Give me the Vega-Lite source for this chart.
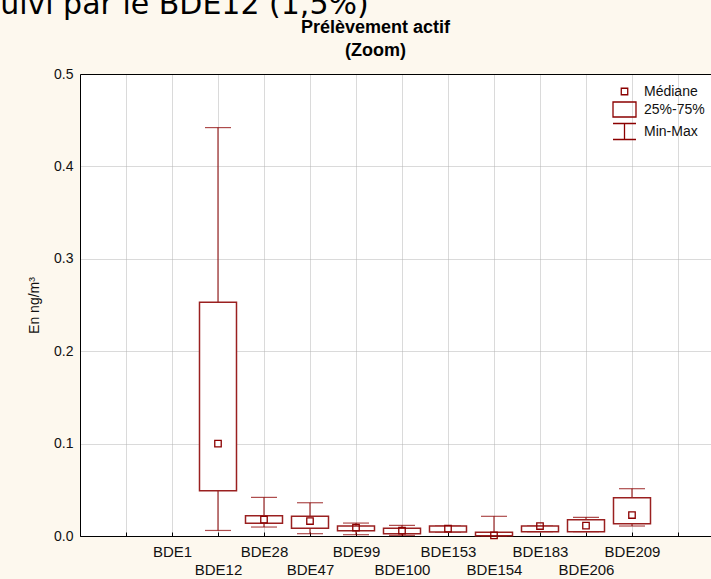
{
  "$schema": "https://vega.github.io/schema/vega-lite/v6.json",
  "width": 631,
  "height": 462,
  "autosize": {"type": "none"},
  "padding": {"left": 80, "top": 74, "right": 0, "bottom": 43},
  "background": "#fdf8ee",
  "config": {"view": {"stroke": null, "fill": "white"}, "font": "Liberation Sans"},
  "data": {"values": [
    {"bde": "BDE12", "min": 0.006, "q1": 0.049, "median": 0.1, "q3": 0.253, "max": 0.442},
    {"bde": "BDE28", "min": 0.0097, "q1": 0.0137, "median": 0.0177, "q3": 0.022, "max": 0.0418},
    {"bde": "BDE47", "min": 0.0025, "q1": 0.0083, "median": 0.0162, "q3": 0.0213, "max": 0.036},
    {"bde": "BDE99", "min": 0.0014, "q1": 0.0058, "median": 0.009, "q3": 0.0108, "max": 0.014},
    {"bde": "BDE100", "min": 0.0007, "q1": 0.0025, "median": 0.0058, "q3": 0.0083, "max": 0.0115},
    {"bde": "BDE153", "min": 0.0043, "q1": 0.0043, "median": 0.0079, "q3": 0.0108, "max": 0.0108},
    {"bde": "BDE154", "min": 0.0, "q1": 0.0004, "median": 0.0007, "q3": 0.004, "max": 0.0213},
    {"bde": "BDE183", "min": 0.0047, "q1": 0.0047, "median": 0.0108, "q3": 0.0108, "max": 0.0108},
    {"bde": "BDE206", "min": 0.0047, "q1": 0.0047, "median": 0.0112, "q3": 0.0177, "max": 0.0202},
    {"bde": "BDE209", "min": 0.0108, "q1": 0.0133, "median": 0.0227, "q3": 0.0415, "max": 0.0512}
  ]},
  "resolve": {"axis": {"x": "independent", "y": "independent"}},
  "layer": [
    {
      "mark": {"type": "rule", "color": "#8b0000", "strokeWidth": 1},
      "encoding": {
        "x": {
          "field": "bde", "type": "nominal",
          "scale": {"type": "point", "domain": [" ", "  ", "BDE1", "BDE12", "BDE28", "BDE47", "BDE99", "BDE100", "BDE153", "BDE154", "BDE183", "BDE206", "BDE209", "   "], "padding": 0.3587, "align": 0},
          "axis": {
            "orient": "bottom", "title": null, "labelAngle": 0, "labelFontSize": 15, "labelColor": "#111",
            "labelPadding": 12, "labelLineHeight": 18, "labelOverlap": false,
            "labelExpr": "indexof(['BDE12','BDE47','BDE100','BDE154','BDE206'], datum.label) >= 0 ? ['', datum.label] : datum.label",
            "ticks": true, "tickSize": -4, "tickColor": "#000", "domainColor": "#000", "domainWidth": 1,
            "grid": true, "gridColor": "#b4b4b4", "gridDash": [1, 1]
          }
        },
        "y": {
          "field": "min", "type": "quantitative",
          "scale": {"domain": [0, 0.5], "nice": false},
          "axis": {
            "title": "En ng/m³", "values": [0, 0.1, 0.2, 0.3, 0.4, 0.5], "format": ".1f",
            "labelFontSize": 14, "labelColor": "#111", "labelPadding": 7, "ticks": false,
            "domainColor": "#000", "grid": true, "gridColor": "#b4b4b4", "gridDash": [1, 1],
            "titleFontSize": 14, "titleFontWeight": "normal", "titleColor": "#111", "titlePadding": 12
          }
        },
        "y2": {"field": "max"}
      }
    },
    {
      "mark": {"type": "tick", "orient": "horizontal", "color": "#8b0000", "size": 26, "thickness": 1.2},
      "encoding": {
        "x": {"field": "bde", "type": "nominal", "axis": null},
        "y": {"field": "min", "type": "quantitative", "axis": null}
      }
    },
    {
      "mark": {"type": "tick", "orient": "horizontal", "color": "#8b0000", "size": 26, "thickness": 1.2},
      "encoding": {
        "x": {"field": "bde", "type": "nominal", "axis": null},
        "y": {"field": "max", "type": "quantitative", "axis": null}
      }
    },
    {
      "mark": {"type": "bar", "fill": "white", "stroke": "#9a2020", "strokeWidth": 1.5, "size": 37},
      "encoding": {
        "x": {
          "field": "bde", "type": "nominal",
          "axis": {
            "orient": "top", "labels": false, "ticks": false, "grid": false, "domain": true, "domainColor": "#000",
            "title": "suivi par le BDE12 (1,5%)", "titleX": -96, "titleY": -61, "titleAlign": "left",
            "titleBaseline": "alphabetic", "titleFontSize": 30, "titleFont": "DejaVu Sans",
            "titleFontWeight": "normal", "titleColor": "#000"
          }
        },
        "y": {
          "field": "q1", "type": "quantitative",
          "axis": {
            "orient": "right", "labels": false, "ticks": false, "grid": false, "domain": false,
            "title": ["Prélèvement actif", "(Zoom)"], "titleAngle": 0, "titleX": -336, "titleY": -56,
            "titleAlign": "center", "titleBaseline": "top", "titleFontSize": 18, "titleFontWeight": "bold",
            "titleLineHeight": 23, "titleColor": "#000"
          }
        },
        "y2": {"field": "q3"}
      }
    },
    {
      "mark": {"type": "point", "filled": false, "stroke": "#8b0000", "strokeWidth": 1.3, "size": 361, "opacity": 1},
      "encoding": {
        "x": {"field": "bde", "type": "nominal", "axis": null},
        "y": {"field": "median", "type": "quantitative", "axis": null},
        "shape": {
          "datum": "Médiane", "type": "nominal",
          "scale": {
            "domain": ["Médiane", "25%-75%", "Min-Max"],
            "range": ["M-0.34,-0.34H0.34V0.34H-0.34Z", "M-1.21,-0.79H1.21V0.79H-1.21Z", "M-1.21,-0.84H1.21M0,-0.84V0.84M-1.21,0.84H1.21"]
          },
          "legend": {
            "title": null, "orient": "none", "legendX": 534, "legendY": 7, "padding": 0,
            "symbolSize": 361, "symbolStrokeColor": "#8b0000", "symbolFillColor": "#fdf8ee",
            "symbolStrokeWidth": 1.3, "labelFontSize": 14, "labelColor": "#111", "labelOffset": 9, "rowPadding": 0
          }
        }
      }
    }
  ]
}
